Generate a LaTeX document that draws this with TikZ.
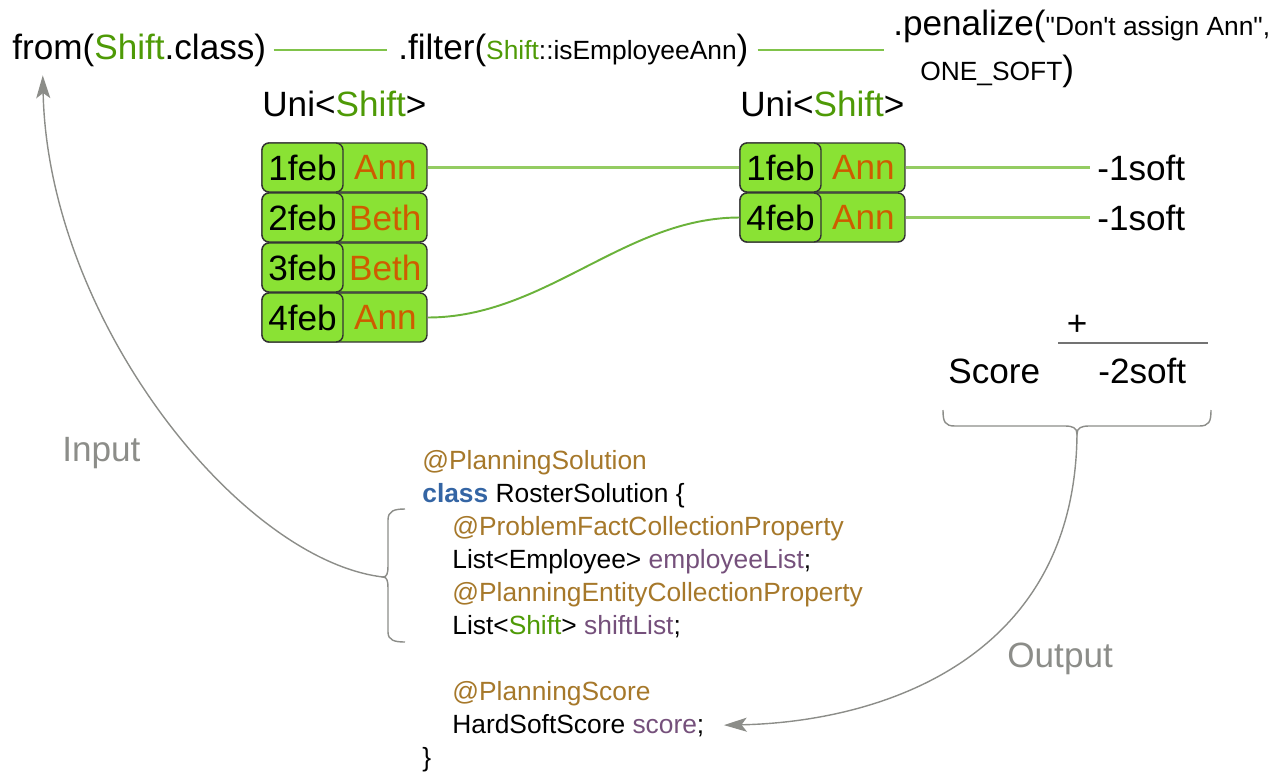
\documentclass[tikz,border=0pt]{standalone}
\usepackage{fontspec}
\setsansfont{Liberation Sans}
\usepackage{xcolor}
\usetikzlibrary{arrows.meta,positioning,calc}

\definecolor{shiftgreen}{HTML}{4E9A06}
\definecolor{cellgreen}{HTML}{8AE234}
\definecolor{annname}{HTML}{CE5C00}
\definecolor{toplink}{HTML}{80C34A}
\definecolor{rowlink}{HTML}{94CC62}
\definecolor{curvelink}{HTML}{6AB23A}
\definecolor{annot}{HTML}{A6782A}
\definecolor{fieldpurple}{HTML}{75507B}
\definecolor{keyblue}{HTML}{3465A4}
\definecolor{flowgrey}{HTML}{8C8D89}
\newcommand{\smalltxt}{\fontsize{15}{18}\selectfont}

\begin{document}
\begin{tikzpicture}[x=0.02cm, y=-0.02cm, >={Stealth[length=13pt,width=8pt,inset=3pt]},
    font=\sffamily\fontsize{20}{24}\selectfont,
    txt/.style={inner sep=0pt, anchor=base west},
    code/.style={txt, font=\sffamily\smalltxt},
    rowbox/.style={draw=black!80, fill=cellgreen, line width=0.8pt, rounded corners=4pt,
        minimum width=3.3cm, minimum height=0.98cm, inner sep=0pt},
    datebox/.style={rowbox, minimum width=1.62cm},
    who/.style={inner sep=0pt, minimum width=1.68cm, text=annname},
    link/.style={draw=toplink, line width=1.1pt},
    flow/.style={draw=flowgrey, line width=0.8pt, ->},
    curly/.style={draw=flowgrey, line width=0.8pt}]
    \useasboundingbox (0,0) rectangle (1282,772);

    % Stream pipeline
    \node[txt] (from) at (12,59) {from({\color{shiftgreen}Shift}.class)};
    \node[txt] (filter) at (398,59) {.filter({\smalltxt\color{shiftgreen}Shift}{\smalltxt ::isEmployeeAnn})};
    \node[txt] (pen) at (893,35) {.penalize({\smalltxt \textquotedbl Don\textquotesingle t assign Ann\textquotedbl,}};
    \node[txt] (penb) at (920,80) {{\smalltxt ONE\_SOFT})};
    \draw[link, shorten <=4pt, shorten >=6pt] (from) -- (filter);
    \draw[link, shorten <=5pt, shorten >=5pt] (filter.east) -- (filter.east -| pen.west);

    % Stream types
    \node[txt] (uniA) at (262,116) {Uni<{\color{shiftgreen}Shift}>};
    \node[txt] (uniB) at (740,116) {Uni<{\color{shiftgreen}Shift}>};

    % All shifts
    \node[rowbox] (a1) at (344.5,167.5) {};
    \node[datebox, anchor=west] (a1d) at (a1.west) {1feb};
    \node[who, anchor=east] (a1w) at (a1.east) {Ann};
    \node[rowbox] (a2) at (344.5,217.5) {};
    \node[datebox, anchor=west] (a2d) at (a2.west) {2feb};
    \node[who, anchor=east] (a2w) at (a2.east) {Beth};
    \node[rowbox] (a3) at (344.5,267.5) {};
    \node[datebox, anchor=west] (a3d) at (a3.west) {3feb};
    \node[who, anchor=east] (a3w) at (a3.east) {Beth};
    \node[rowbox] (a4) at (344.5,317.5) {};
    \node[datebox, anchor=west] (a4d) at (a4.west) {4feb};
    \node[who, anchor=east] (a4w) at (a4.east) {Ann};

    % Filtered shifts
    \node[rowbox] (b1) at (822.5,167.5) {};
    \node[datebox, anchor=west] (b1d) at (b1.west) {1feb};
    \node[who, anchor=east] (b1w) at (b1.east) {Ann};
    \node[rowbox] (b2) at (822.5,217.5) {};
    \node[datebox, anchor=west] (b2d) at (b2.west) {4feb};
    \node[who, anchor=east] (b2w) at (b2.east) {Ann};

    % Penalties
    \node[inner sep=0pt, anchor=west] (s1) at (1097,167.5) {-1soft};
    \node[inner sep=0pt, anchor=west] (s2) at (1097,217.5) {-1soft};
    \draw[link, draw=rowlink, line width=1.3pt] (a1) -- (b1);
    \draw[link, draw=curvelink] (a4.east) .. controls (545,317.5) and (625,217.5) .. (b2.west);
    \draw[link, draw=rowlink, line width=1.3pt, shorten >=4pt] (b1) -- (s1);
    \draw[link, draw=rowlink, line width=1.3pt, shorten >=4pt] (b2) -- (s2);

    % Sum
    \node (plus) at (1077,325) {+};
    \draw[line width=1.2pt, draw=black!55] (1058,343) -- (1208,343);
    \node[txt] (score) at (948,383) {Score};
    \node[txt] (total) at (1098,383) {-2soft};
    \draw[curly] (943,410) .. controls (943,422) and (945,426) .. (955,426) -- (1065,426)
        .. controls (1073,426) and (1077,428) .. (1077,434)
        .. controls (1077,428) and (1081,426) .. (1089,426) -- (1199,426)
        .. controls (1209,426) and (1211,422) .. (1211,410);
    \coordinate (scoreTip) at (1077,434);

    % Solution class
    \node[code] (c1) at (422,469) {\color{annot}@PlanningSolution};
    \node[code] (c2) at (422,502) {{\bfseries\color{keyblue}class} RosterSolution \{};
    \node[code] (c3) at (452,535) {\color{annot}@ProblemFactCollectionProperty};
    \node[code] (c4) at (452,568) {List<Employee> {\color{fieldpurple}employeeList};};
    \node[code] (c5) at (452,601) {\color{annot}@PlanningEntityCollectionProperty};
    \node[code] (c6) at (452,634) {List<{\color{shiftgreen}Shift}> {\color{fieldpurple}shiftList};};
    \node[code] (c7) at (452,700) {\color{annot}@PlanningScore};
    \node[code] (c8) at (452,733) {HardSoftScore {\color{fieldpurple}score};};
    \node[code] (c9) at (422,766) {\}};
    \draw[curly] (405,509) .. controls (394,509) and (388,511) .. (388,520) -- (388,566)
        .. controls (388,573) and (387,577) .. (383,577)
        .. controls (387,577) and (388,581) .. (388,588) -- (388,632)
        .. controls (388,640) and (394,642) .. (405,642);
    \coordinate (codeTip) at (383,577);

    % Input and output
    \draw[flow] (codeTip) .. controls (240,560) and (48,320) .. ([xshift=17.5pt,yshift=-5pt]from.south west);
    \node[txt, text=flowgrey] (inLbl) at (62,461) {Input};
    \draw[flow] (scoreTip) .. controls (1075,660) and (880,722) .. ([xshift=11pt]c8.east);
    \node[txt, text=flowgrey] (outLbl) at (1007,667) {Output};
\end{tikzpicture}
\end{document}
